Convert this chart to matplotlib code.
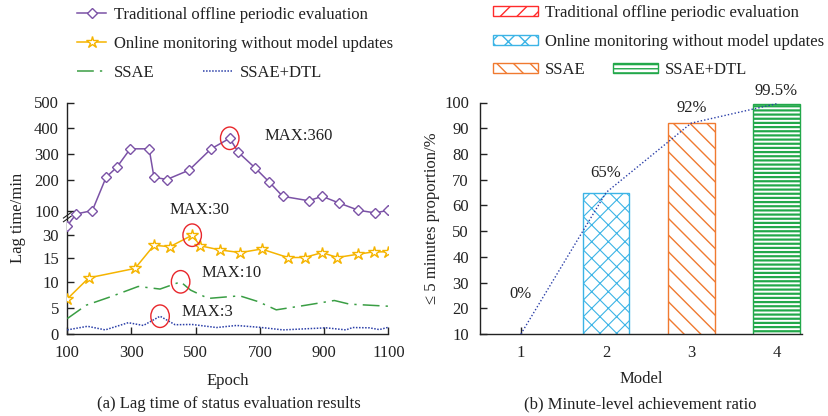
import numpy as np
import matplotlib
matplotlib.use("Agg")
import matplotlib.pyplot as plt
from matplotlib.lines import Line2D
from matplotlib.patches import Patch, Ellipse
from matplotlib.transforms import ScaledTranslation

plt.rcParams["font.family"] = ["Liberation Serif", "DejaVu Serif"]
plt.rcParams["font.size"] = 12
plt.rcParams["text.color"] = "#222222"
plt.rcParams["axes.labelcolor"] = "#222222"
plt.rcParams["xtick.color"] = "#222222"
plt.rcParams["ytick.color"] = "#222222"

# ---- (a) lag time data ----
trad_x = [100, 128, 178, 221, 254, 296, 355, 370, 410, 479, 548, 606,
          633, 685, 728, 771, 852, 894, 946, 1007, 1059, 1100]
trad_y = [58, 92, 102, 209, 247, 319, 319, 209, 200, 236, 319, 360,
          305, 245, 193, 147, 133, 147, 126, 103, 95, 103]

online_x = [100, 167, 311, 370, 420, 489, 514, 575, 639, 705, 787, 839,
            894, 941, 1005, 1054, 1100]
online_y = [6.8, 10.9, 12.8, 23.2, 22.3, 30, 22.9, 20.1, 18.3, 20.7, 15,
            15, 18.3, 15, 17.2, 18.8, 18.8]

ssae_x = [100, 159, 234, 321, 389, 453, 484, 539, 637, 694, 751, 844,
          932, 979, 1100]
ssae_y = [3.0, 5.6, 7.2, 9.2, 8.7, 10.1, 8.5, 6.9, 7.4, 6.3, 4.7, 5.6,
          6.5, 5.8, 5.4]

dtl_x = [100, 163, 218, 290, 337, 389, 436, 488, 565, 627, 699, 772,
         906, 968, 989, 1041, 1072, 1100]
dtl_y = [0.8, 1.5, 0.8, 2.2, 1.66, 3.46, 1.8, 1.86, 1.26, 1.66, 1.3, 0.8,
         1.2, 0.8, 1.26, 1.2, 0.86, 1.3]

max_labels = ["MAX:360", "MAX:30", "MAX:10", "MAX:3"]

y_ticks = [0, 5, 10, 15, 30, 100, 200, 300, 400, 500]
x_ticks = [100, 300, 500, 700, 900, 1100]

# ---- (b) achievement ratio data ----
models = [1, 2, 3, 4]
ratio = [0, 65, 92, 99.5]
ratio_labels = ["0%", "65%", "92%", "99.5%"]

names = [
    "Traditional offline periodic evaluation",
    "Online monitoring without model updates",
    "SSAE",
    "SSAE+DTL",
]

# broken y scale of panel (a): tick value -> height on axis
knot_pos = np.array([0, 25.7, 51.7, 76.5, 98.8, 122.8, 154.5, 180.3, 206, 231.5])
knot_val = np.array(y_ticks, dtype=float)


def fwd(v):
    return np.interp(v, knot_val, knot_pos)


def inv(p):
    return np.interp(p, knot_pos, knot_val)


W, H = 829, 416
fig = plt.figure(figsize=(W / 100, H / 100), dpi=100)

ax1 = fig.add_axes([67.3 / W, 1 - 334 / H, 321 / W, 231.5 / H])
ax2 = fig.add_axes([480 / W, 1 - 334 / H, 322 / W, 231.5 / H])

purple = "#7b52a6"
gold = "#f5b400"
green = "#3a9e44"
navy = "#2b3fa8"

ax1.set_yscale("function", functions=(fwd, inv))
ax1.plot(trad_x, trad_y, color=purple, lw=1.1, marker="D", ms=5,
         mfc="white", mec=purple, mew=1.0, zorder=3)
ax1.plot(online_x, online_y, color=gold, lw=1.1, marker="*", ms=9,
         mfc="white", mec=gold, mew=1.0, zorder=3)
ax1.plot(ssae_x, ssae_y, color=green, lw=1.1,
         linestyle=(0, (11, 4, 1.5, 4)), zorder=3)
ax1.plot(dtl_x, dtl_y, color=navy, lw=1.1, linestyle=(0, (1, 1)), zorder=3)

ax1.set_xlim(100, 1100)
ax1.set_ylim(0, 500)
ax1.set_xticks(x_ticks)
ax1.set_yticks(y_ticks)
ax1.set_yticklabels([str(t) for t in y_ticks])
ax1.yaxis.set_minor_locator(matplotlib.ticker.NullLocator())

# red circles around each maximum and MAX texts
text_offsets = [(50, 1.5), (5.5, 18), (37, 6.5), (34, 3)]
series = [(trad_x, trad_y), (online_x, online_y), (ssae_x, ssae_y), (dtl_x, dtl_y)]
for (sx, sy), lab, off in zip(series, max_labels, text_offsets):
    i = int(np.argmax(sy))
    tr = fig.dpi_scale_trans + ScaledTranslation(sx[i], sy[i], ax1.transData)
    ax1.add_patch(Ellipse((0, 0), 0.185, 0.225, transform=tr, fill=False,
                          edgecolor="#e8262b", lw=1.0, zorder=4, clip_on=False))
    ax1.annotate(lab, (sx[i], sy[i]), xytext=off, textcoords="offset points",
                 ha="center", va="center", fontsize=12)

# axis break mark near 100
for dy in (-0.008, 0.008):
    ax1.add_line(Line2D([-0.012, 0.012], [0.505 + dy - 0.012, 0.505 + dy + 0.012],
                        transform=ax1.transAxes, color="#222222", lw=0.8,
                        clip_on=False))

ax1.set_xlabel("Epoch", fontsize=12)
ax1.set_ylabel("Lag time/min", fontsize=12)
ax1.xaxis.set_label_coords(0.5, -0.17)
ax1.yaxis.set_label_coords(-0.13, 0.5)

# ---- panel (b) ----
bar_colors = ["#ff2b2b", "#3cb4e6", "#f07a30", "#22a84a"]
bar_hatches = ["//", "xx", "\\\\", "----"]
hatch_widths = [1.2, 0.8, 1.0, 1.6]

legend_patches = []
for m, r, c, h, hw in zip(models, ratio, bar_colors, bar_hatches, hatch_widths):
    with plt.rc_context({"hatch.linewidth": hw}):
        b = ax2.bar(m, r, width=0.55, facecolor="white", edgecolor=c,
                    hatch=h, lw=1.0, zorder=2)
        p = Patch(facecolor="white", edgecolor=c, hatch=h, lw=1.0)
    for patch in list(b) + [p]:
        if hasattr(patch, "set_hatch_linewidth"):
            patch.set_hatch_linewidth(hw)
    legend_patches.append(p)

ylo = 10
line_y = np.clip(ratio, ylo, None)
ax2.plot(models, line_y, color=navy, lw=1.0, linestyle=(0, (1, 1.5)), zorder=3)

label_offsets = [29, 14, 11, 9]
for m, r, lab, off in zip(models, ratio, ratio_labels, label_offsets):
    ax2.annotate(lab, (m, max(r, ylo)), xytext=(0, off),
                 textcoords="offset points", ha="center", va="center",
                 fontsize=12, annotation_clip=False)

ax2.set_xlim(0.52, 4.3)
ax2.set_ylim(10, 100)
ax2.set_xticks(models)
ax2.set_yticks(range(10, 101, 10))
ax2.set_xlabel("Model", fontsize=12)
ax2.set_ylabel("≤ 5 minutes proportion/%", fontsize=12)
ax2.xaxis.set_label_coords(0.5, -0.158)
ax2.yaxis.set_label_coords(-0.125, 0.5)

for ax in (ax1, ax2):
    for side in ("top", "right"):
        ax.spines[side].set_visible(False)
    for side in ("left", "bottom"):
        ax.spines[side].set_color("#222222")
        ax.spines[side].set_linewidth(1.0)
    ax.tick_params(direction="in", length=5, width=1.0, labelsize=12)
ax1.tick_params(axis="y", pad=6)
ax1.tick_params(axis="x", pad=8)
ax2.tick_params(axis="y", pad=8)
ax2.tick_params(axis="x", pad=8)

# ---- legends, one entry each ----
line_handles = [
    Line2D([], [], color=purple, lw=1.1, marker="D", ms=5, mfc="white",
           mec=purple, mew=1.0),
    Line2D([], [], color=gold, lw=1.1, marker="*", ms=9, mfc="white",
           mec=gold, mew=1.0),
    Line2D([], [], color=green, lw=1.1, linestyle=(0, (11, 4, 1.5, 4))),
    Line2D([], [], color=navy, lw=1.1, linestyle=(0, (1, 1))),
]
left_anchor = [(77, 15), (77, 44), (77, 73), (203, 73)]
right_anchor = [(493, 13), (493, 42), (493, 70), (613, 70)]

for hnd, name, (px, py) in zip(line_handles, names, left_anchor):
    fig.legend([hnd], [name], loc="center left",
               bbox_to_anchor=(px / W, 1 - py / H), frameon=False,
               borderpad=0, borderaxespad=0, handlelength=1.75,
               handletextpad=0.45, numpoints=1, fontsize=12)

for hnd, name, (px, py) in zip(legend_patches, names, right_anchor):
    fig.legend([hnd], [name], loc="center left",
               bbox_to_anchor=(px / W, 1 - py / H), frameon=False,
               borderpad=0, borderaxespad=0, handlelength=2.7,
               handleheight=0.55, handletextpad=0.4, fontsize=12)

fig.text(229 / W, 1 - 404 / H, "(a) Lag time of status evaluation results",
         ha="center", va="center", fontsize=12)
fig.text(640 / W, 1 - 404 / H, "(b) Minute-level achievement ratio",
         ha="center", va="center", fontsize=12)

fig.savefig("out.png", dpi=100)
